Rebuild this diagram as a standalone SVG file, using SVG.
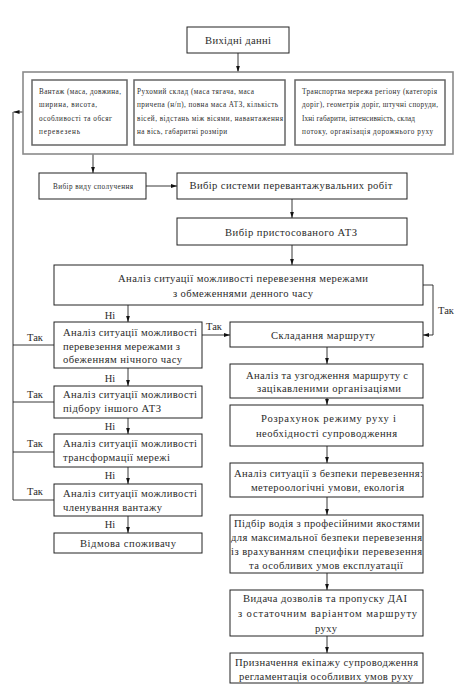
<svg xmlns="http://www.w3.org/2000/svg" width="458" height="687" viewBox="0 0 458 687">
<style>
  .bg{fill:#fff}
  .box{fill:#fff;stroke:#222;stroke-width:1}
  .outer{fill:#fff;stroke:#8a8a8a;stroke-width:1.6}
  .inner{fill:#fff;stroke:#666;stroke-width:1.5}
  text{font-family:"Liberation Serif","Times New Roman","DejaVu Serif",serif;fill:#2b2b2b;font-weight:normal}
  .t{font-size:10.6px}
  .c{text-anchor:middle}
  .s{font-size:7.2px}
  .lbl{font-size:10.5px}
  .ln{fill:none;stroke:#222;stroke-width:0.9}
</style>
<defs>
  <marker id="ah" markerUnits="userSpaceOnUse" markerWidth="7" markerHeight="5" refX="6" refY="2.5" orient="auto">
    <path d="M0,0.6 L6,2.5 L0,4.4 Z" fill="#111"/>
  </marker>
</defs>
<rect class="bg" x="0" y="0" width="458" height="687"/>

<g id="connectors">
  <line class="ln" x1="238" y1="53" x2="238" y2="72" marker-end="url(#ah)"/>
  <line class="ln" x1="93" y1="154" x2="93" y2="173" marker-end="url(#ah)"/>
  <line class="ln" x1="146" y1="186" x2="177" y2="186" marker-end="url(#ah)"/>
  <line class="ln" x1="292" y1="199" x2="292" y2="218" marker-end="url(#ah)"/>
  <line class="ln" x1="292" y1="245" x2="292" y2="265" marker-end="url(#ah)"/>
  <line class="ln" x1="128" y1="305" x2="128" y2="322" marker-end="url(#ah)"/>
  <line class="ln" x1="128" y1="368" x2="128" y2="386" marker-end="url(#ah)"/>
  <line class="ln" x1="128" y1="418" x2="128" y2="434" marker-end="url(#ah)"/>
  <line class="ln" x1="128" y1="467" x2="128" y2="484" marker-end="url(#ah)"/>
  <line class="ln" x1="128" y1="516" x2="128" y2="533" marker-end="url(#ah)"/>
  <line class="ln" x1="202" y1="335" x2="230" y2="335" marker-end="url(#ah)"/>
  <polyline class="ln" points="423,285 433,285 433,335 423,335" marker-end="url(#ah)"/>
  <line class="ln" x1="54" y1="345" x2="13" y2="345"/>
  <line class="ln" x1="54" y1="402" x2="13" y2="402"/>
  <line class="ln" x1="54" y1="452" x2="13" y2="452"/>
  <polyline class="ln" points="54,500 13,500 13,112"/>
  <line class="ln" x1="23" y1="112" x2="13.5" y2="112" marker-end="url(#ah)"/>
  <line class="ln" x1="327" y1="347" x2="327" y2="364" marker-end="url(#ah)"/>
  <line class="ln" x1="327" y1="398" x2="327" y2="405" marker-end="url(#ah)"/>
  <line class="ln" x1="327" y1="446" x2="327" y2="463" marker-end="url(#ah)"/>
  <line class="ln" x1="327" y1="497" x2="327" y2="515" marker-end="url(#ah)"/>
  <line class="ln" x1="327" y1="573" x2="327" y2="590" marker-end="url(#ah)"/>
  <line class="ln" x1="327" y1="636" x2="327" y2="653" marker-end="url(#ah)"/>
  <text class="lbl c" x="110" y="318.5">Ні</text>
  <text class="lbl c" x="110" y="381.5">Ні</text>
  <text class="lbl c" x="110" y="429.5">Ні</text>
  <text class="lbl c" x="110" y="478.5">Ні</text>
  <text class="lbl c" x="110" y="527.5">Ні</text>
  <text class="lbl c" x="35" y="340.5">Так</text>
  <text class="lbl c" x="35" y="397.5">Так</text>
  <text class="lbl c" x="35" y="446.5">Так</text>
  <text class="lbl c" x="35" y="494.5">Так</text>
  <text class="lbl c" x="214" y="329.5">Так</text>
  <text class="lbl" x="438" y="313.5">Так</text>
</g>

<g id="n_input">
  <rect class="box" x="187" y="27" width="102" height="26"/>
  <text class="t c" x="238" y="44" textLength="66" lengthAdjust="spacing">Вихідні данні</text>
</g>

<g id="n_data">
  <rect class="outer" x="23" y="72" width="430" height="82"/>
  <g id="n_cargo">
    <rect class="inner" x="32" y="80" width="95" height="65"/>
    <text class="s" x="39" y="93.5" textLength="82" lengthAdjust="spacing">Вантаж (маса, довжина,</text>
    <text class="s" x="39" y="107" textLength="58" lengthAdjust="spacing">ширина, висота,</text>
    <text class="s" x="39" y="120.5" textLength="73" lengthAdjust="spacing">особливості та обсяг</text>
    <text class="s" x="39" y="134" textLength="41" lengthAdjust="spacing">перевезень</text>
  </g>
  <g id="n_rolling">
    <rect class="inner" x="134" y="80" width="151" height="65"/>
    <text class="s" x="137" y="93.5" textLength="117" lengthAdjust="spacing">Рухомий склад (маса тягача, маса</text>
    <text class="s" x="137" y="107" textLength="141" lengthAdjust="spacing">причепа (н/п), повна маса АТЗ, кількість</text>
    <text class="s" x="137" y="120.5" textLength="146" lengthAdjust="spacing">вісей, відстань між вісями, навантаження</text>
    <text class="s" x="137" y="134" textLength="90" lengthAdjust="spacing">на вісь, габаритні розміри</text>
  </g>
  <g id="n_network">
    <rect class="inner" x="295" y="80" width="150" height="65"/>
    <text class="s" x="302" y="93.5" textLength="135" lengthAdjust="spacing">Транспортна мережа регіону (категорія</text>
    <text class="s" x="302" y="107" textLength="136" lengthAdjust="spacing">доріг), геометрія доріг, штучні споруди,</text>
    <text class="s" x="302" y="120.5" textLength="113" lengthAdjust="spacing">Іхні габарити, інтенсивність, склад</text>
    <text class="s" x="302" y="134" textLength="131" lengthAdjust="spacing">потоку, організація дорожнього руху</text>
  </g>
</g>

<g id="n_mode">
  <rect class="box" x="39" y="173" width="107" height="26"/>
  <text class="s c" x="93" y="188.5" textLength="80" lengthAdjust="spacing">Вибір виду сполучення</text>
</g>

<g id="n_system">
  <rect class="box" x="177" y="173" width="230" height="26"/>
  <text class="t c" x="291" y="189" textLength="203" lengthAdjust="spacing">Вибір системи перевантажувальних робіт</text>
</g>

<g id="n_ats">
  <rect class="box" x="177" y="218" width="230" height="27"/>
  <text class="t c" x="291" y="235.5" textLength="132" lengthAdjust="spacing">Вибір пристосованого АТЗ</text>
</g>

<g id="n_day">
  <rect class="box" x="54" y="265" width="369" height="40"/>
  <text class="t c" x="243" y="282" textLength="250" lengthAdjust="spacing">Аналіз ситуації можливості перевезення мережами</text>
  <text class="t c" x="243" y="297" textLength="140" lengthAdjust="spacing">з обмеженнями денного часу</text>
</g>

<g id="n_night">
  <rect class="box" x="54" y="322" width="148" height="46"/>
  <text class="t" x="63" y="335.5" textLength="134" lengthAdjust="spacing">Аналіз ситуації можливості</text>
  <text class="t" x="63" y="349.5" textLength="117" lengthAdjust="spacing">перевезення мережами з</text>
  <text class="t" x="63" y="363" textLength="119" lengthAdjust="spacing">обеженням нічного часу</text>
</g>

<g id="n_other_ats">
  <rect class="box" x="54" y="386" width="148" height="32"/>
  <text class="t" x="63" y="398" textLength="134" lengthAdjust="spacing">Аналіз ситуації можливості</text>
  <text class="t" x="63" y="412" textLength="98" lengthAdjust="spacing">підбору іншого АТЗ</text>
</g>

<g id="n_transform">
  <rect class="box" x="54" y="434" width="148" height="33"/>
  <text class="t" x="63" y="446.5" textLength="134" lengthAdjust="spacing">Аналіз ситуації можливості</text>
  <text class="t" x="63" y="460.5" textLength="107" lengthAdjust="spacing">трансформації мережі</text>
</g>

<g id="n_split">
  <rect class="box" x="54" y="484" width="148" height="32"/>
  <text class="t" x="63" y="496.5" textLength="134" lengthAdjust="spacing">Аналіз ситуації можливості</text>
  <text class="t" x="63" y="510.5" textLength="99" lengthAdjust="spacing">членування вантажу</text>
</g>

<g id="n_refuse">
  <rect class="box" x="54" y="533" width="148" height="20"/>
  <text class="t c" x="128" y="546.5" textLength="96" lengthAdjust="spacing">Відмова споживачу</text>
</g>

<g id="n_route">
  <rect class="box" x="230" y="322" width="193" height="25"/>
  <text class="t c" x="323" y="338.5" textLength="104" lengthAdjust="spacing">Складання маршруту</text>
</g>

<g id="n_agree">
  <rect class="box" x="230" y="364" width="193" height="34"/>
  <text class="t c" x="327" y="379" textLength="162" lengthAdjust="spacing">Аналіз та узгодження маршруту с</text>
  <text class="t c" x="329" y="392" textLength="144" lengthAdjust="spacing">зацікавленими організаціями</text>
</g>

<g id="n_calc">
  <rect class="box" x="230" y="405" width="193" height="41"/>
  <text class="t c" x="328.5" y="422" textLength="135" lengthAdjust="spacing">Розрахунок режиму руху і</text>
  <text class="t c" x="326.5" y="437" textLength="141" lengthAdjust="spacing">необхідності супроводження</text>
</g>

<g id="n_safety">
  <rect class="box" x="230" y="463" width="193" height="34"/>
  <text class="t c" x="328.5" y="476.5" textLength="189" lengthAdjust="spacing">Аналіз ситуації з безпеки перевезення:</text>
  <text class="t c" x="327.5" y="490.5" textLength="153" lengthAdjust="spacing">метероологічні умови, екологія</text>
</g>

<g id="n_driver">
  <rect class="box" x="230" y="515" width="193" height="58"/>
  <text class="t c" x="327" y="526.5" textLength="186" lengthAdjust="spacing">Підбір водія з професійними якостями</text>
  <text class="t c" x="326.5" y="540.5" textLength="191" lengthAdjust="spacing">для максимальної безпеки перевезення</text>
  <text class="t c" x="326.5" y="554.5" textLength="191" lengthAdjust="spacing">із врахуванням специфіки перевезення</text>
  <text class="t c" x="326" y="568.5" textLength="154" lengthAdjust="spacing">та особливих умов експлуатації</text>
</g>

<g id="n_permit">
  <rect class="box" x="230" y="590" width="193" height="46"/>
  <text class="t c" x="325" y="601.5" textLength="164" lengthAdjust="spacing">Видача дозволів та пропуску ДАІ</text>
  <text class="t c" x="327.5" y="616.5" textLength="179" lengthAdjust="spacing">з остаточним варіантом маршруту</text>
  <text class="t c" x="326" y="631.5" textLength="22" lengthAdjust="spacing">руху</text>
</g>

<g id="n_escort">
  <rect class="box" x="230" y="653" width="193" height="30"/>
  <text class="t c" x="326.5" y="665.5" textLength="183" lengthAdjust="spacing">Призначення екіпажу супроводження</text>
  <text class="t c" x="326" y="679.5" textLength="174" lengthAdjust="spacing">регламентація особливих умов руху</text>
</g>
</svg>
